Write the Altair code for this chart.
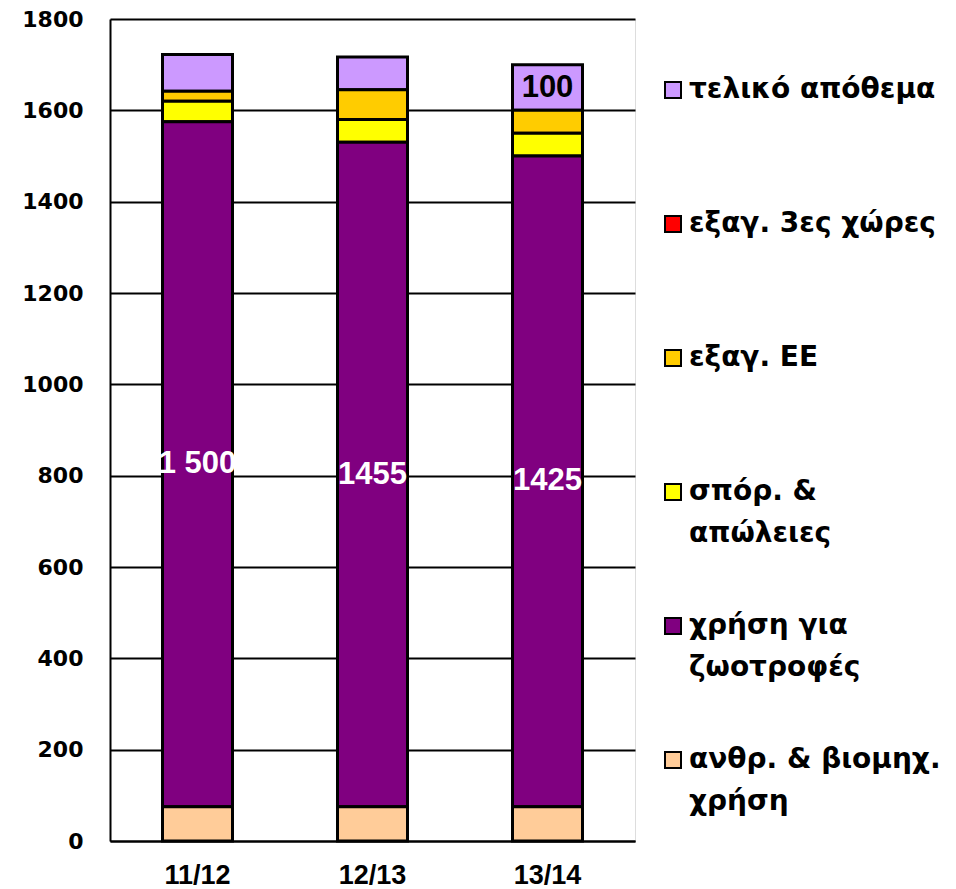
import altair as alt
import pandas as pd

categories = ["11/12", "12/13", "13/14"]
series = ["τελικό απόθεμα", "εξαγ. 3ες χώρες", "εξαγ. ΕΕ", "σπόρ. & απώλειες",
          "χρήση για ζωοτροφές", "ανθρ. & βιομηχ. χρήση"]
colors = ["#CC99FF", "#FF0000", "#FFCC00", "#FFFF00", "#800080", "#FFCC99"]

final_stock = [80, 72, 100]
exports_third = [0, 0, 0]
exports_eu = [22, 65, 50]
seed_losses = [45, 50, 50]
feed_use = [1500, 1455, 1425]
human_industrial = [75, 75, 75]

feed_labels = ["1 500", "1455", "1425"]
stock_labels = ["", "", "100"]
empty_labels = ["", "", ""]

legend_lines = [
    ["τελικό απόθεμα", ""],
    ["εξαγ. 3ες χώρες", ""],
    ["εξαγ. ΕΕ", ""],
    ["σπόρ. &", "απώλειες"],
    ["χρήση για", "ζωοτροφές"],
    ["ανθρ. & βιομηχ.", "χρήση"],
]

values = [final_stock, exports_third, exports_eu, seed_losses, feed_use, human_industrial]
labels = [stock_labels, empty_labels, empty_labels, empty_labels, feed_labels, empty_labels]

rows = []
for i, s in enumerate(series):
    for j, c in enumerate(categories):
        rows.append({"cat": c, "series": s, "value": values[i][j],
                     "ord": len(series) - 1 - i, "label": labels[i][j]})
df = pd.DataFrame(rows)

def arr(lines):
    return "[" + ", ".join("'" + l + "'" for l in lines) + "]"

expr = "''"
for s, lines in reversed(list(zip(series, legend_lines))):
    expr = f"datum.label == '{s}' ? {arr(lines)} : ({expr})"

base = alt.Chart(df).transform_stack(
    stack="value", groupby=["cat"], as_=["y0", "y1"],
    sort=[alt.SortField("ord", order="ascending")]
).transform_calculate(mid="(datum.y0 + datum.y1) / 2")

xenc = alt.X("cat:N", sort=categories,
             scale=alt.Scale(paddingInner=0.6, paddingOuter=0.3),
             axis=alt.Axis(title=None, labelAngle=0, ticks=False, tickSize=0,
                           domainColor="black", domainWidth=2,
                           labelFont="Liberation Sans", labelFontWeight="bold",
                           labelFontSize=27, labelColor="black", labelPadding=21))

bars = base.transform_filter("datum.value > 0").mark_bar(
    stroke="black", strokeWidth=3
).encode(
    x=xenc,
    y=alt.Y("y0:Q", scale=alt.Scale(domain=[0, 1800]),
            axis=alt.Axis(title=None, values=list(range(0, 1801, 200)), format="d",
                          grid=True, gridColor="black", gridWidth=2, gridOpacity=1,
                          domainColor="black", domainWidth=2,
                          ticks=False, tickSize=0,
                          labelFont="DejaVu Sans", labelFontWeight="bold",
                          labelFontSize=22, labelColor="black", labelPadding=27,
                          minExtent=97, maxExtent=97)),
    y2="y1:Q",
    color=alt.Color("series:N",
                    scale=alt.Scale(domain=series, range=colors),
                    legend=alt.Legend(
                        title=None, orient="none", legendX=549, legendY=57,
                        symbolType="square", symbolSize=256,
                        symbolStrokeColor="black", symbolStrokeWidth=2,
                        symbolOpacity=1,
                        labelFont="DejaVu Sans", labelFontWeight="bold",
                        labelFontSize=28, labelColor="black", labelLimit=400,
                        labelOffset=2, rowPadding=64, padding=0,
                        labelExpr=expr,
                    )),
)

text = base.transform_filter("datum.label != ''").mark_text(
    font="Liberation Sans", fontWeight="bold", fontSize=31
).encode(
    x=alt.X("cat:N", sort=categories),
    y=alt.Y("mid:Q"),
    text="label:N",
    color=alt.condition("datum.series == 'χρήση για ζωοτροφές'",
                        alt.value("white"), alt.value("black")),
)

chart = alt.layer(bars, text).properties(
    width=525, height=822,
    padding={"left": 5, "top": 0, "right": 5, "bottom": 5},
).configure_view(stroke="transparent", strokeWidth=0).configure(
    background="white",
    style={"guide-label": {"lineHeight": 42}},
)

chart.save("out.html", embed_options={"renderer": "svg", "actions": False})
